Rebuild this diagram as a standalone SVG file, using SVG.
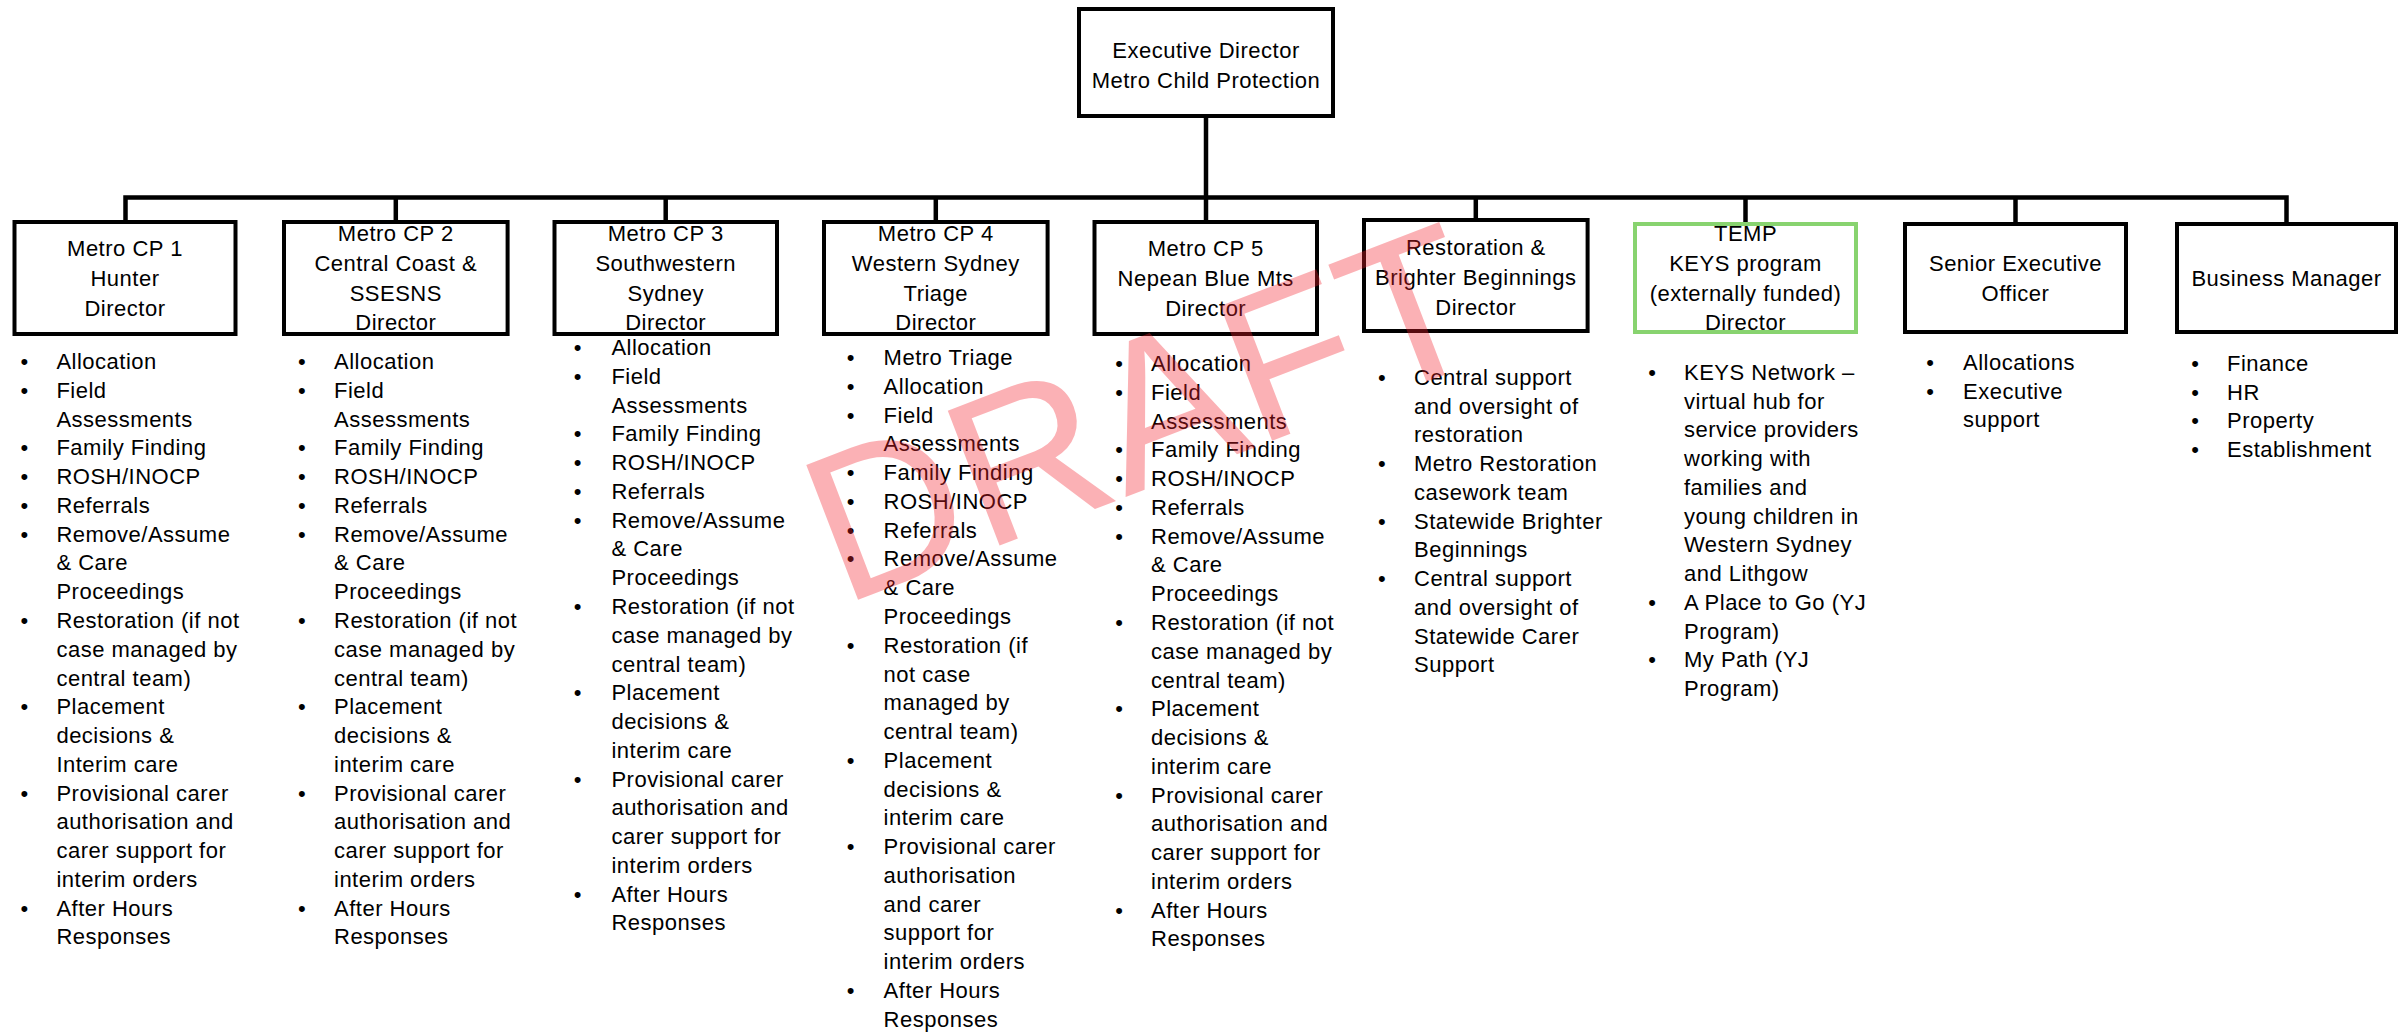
<svg xmlns="http://www.w3.org/2000/svg" width="2407" height="1032" viewBox="0 0 2407 1032">
<style>
.bg{fill:#fff}
.box{fill:#fff;stroke:#000;stroke-width:4}
.gbox{fill:#fff;stroke:#88d36f;stroke-width:4}
.conn{fill:none;stroke:#000;stroke-width:4.5}
text{font-family:"Liberation Sans",Arial,sans-serif;font-size:22px;fill:#000;letter-spacing:0.5px}
.c{text-anchor:middle}
.b{text-anchor:middle;letter-spacing:0}
.wm{font-family:"Liberation Sans",Arial,sans-serif;font-size:210px;fill:#f5222d;opacity:0.35;letter-spacing:0}
</style>
<rect class="bg" x="0" y="0" width="2407" height="1032"/>
<g id="connectors">
<path class="conn" d="M1206 118 V220"/>
<path class="conn" d="M125.5 222 V197.5 H2286.5 V222"/>
<path class="conn" d="M395.8 197.5 V220"/>
<path class="conn" d="M665.7 197.5 V220"/>
<path class="conn" d="M935.8 197.5 V220"/>
<path class="conn" d="M1475.8 197.5 V218"/>
<path class="conn" d="M1745.5 197.5 V222"/>
<path class="conn" d="M2015.5 197.5 V222"/>
</g>
<g id="exec">
<rect class="box" x="1079" y="9" width="254" height="107"/>
<text class="c" x="1206" y="58">Executive Director</text>
<text class="c" x="1206" y="88">Metro Child Protection</text>
</g>
<g id="cp1">
<rect class="box" x="14.5" y="222" width="221" height="112"/>
<text class="c" x="125" y="256">Metro CP 1</text>
<text class="c" x="125" y="286">Hunter</text>
<text class="c" x="125" y="316">Director</text>
<text class="b" x="24.3" y="369">•</text><text x="56.4" y="369">Allocation</text>
<text class="b" x="24.3" y="397.8">•</text><text x="56.4" y="397.8">Field</text>
<text x="56.4" y="426.5">Assessments</text>
<text class="b" x="24.3" y="455.3">•</text><text x="56.4" y="455.3">Family Finding</text>
<text class="b" x="24.3" y="484.1">•</text><text x="56.4" y="484.1">ROSH/INOCP</text>
<text class="b" x="24.3" y="512.9">•</text><text x="56.4" y="512.9">Referrals</text>
<text class="b" x="24.3" y="541.6">•</text><text x="56.4" y="541.6">Remove/Assume</text>
<text x="56.4" y="570.4">&amp; Care</text>
<text x="56.4" y="599.2">Proceedings</text>
<text class="b" x="24.3" y="627.9">•</text><text x="56.4" y="627.9">Restoration (if not</text>
<text x="56.4" y="656.7">case managed by</text>
<text x="56.4" y="685.5">central team)</text>
<text class="b" x="24.3" y="714.2">•</text><text x="56.4" y="714.2">Placement</text>
<text x="56.4" y="743">decisions &amp;</text>
<text x="56.4" y="771.8">Interim care</text>
<text class="b" x="24.3" y="800.6">•</text><text x="56.4" y="800.6">Provisional carer</text>
<text x="56.4" y="829.3">authorisation and</text>
<text x="56.4" y="858.1">carer support for</text>
<text x="56.4" y="886.9">interim orders</text>
<text class="b" x="24.3" y="915.6">•</text><text x="56.4" y="915.6">After Hours</text>
<text x="56.4" y="944.4">Responses</text>
</g>
<g id="cp2">
<rect class="box" x="284" y="222" width="223.6" height="112"/>
<text class="c" x="395.8" y="241">Metro CP 2</text>
<text class="c" x="395.8" y="271">Central Coast &amp;</text>
<text class="c" x="395.8" y="300.5">SSESNS</text>
<text class="c" x="395.8" y="330">Director</text>
<text class="b" x="301.8" y="369">•</text><text x="334" y="369">Allocation</text>
<text class="b" x="301.8" y="397.8">•</text><text x="334" y="397.8">Field</text>
<text x="334" y="426.5">Assessments</text>
<text class="b" x="301.8" y="455.3">•</text><text x="334" y="455.3">Family Finding</text>
<text class="b" x="301.8" y="484.1">•</text><text x="334" y="484.1">ROSH/INOCP</text>
<text class="b" x="301.8" y="512.9">•</text><text x="334" y="512.9">Referrals</text>
<text class="b" x="301.8" y="541.6">•</text><text x="334" y="541.6">Remove/Assume</text>
<text x="334" y="570.4">&amp; Care</text>
<text x="334" y="599.2">Proceedings</text>
<text class="b" x="301.8" y="627.9">•</text><text x="334" y="627.9">Restoration (if not</text>
<text x="334" y="656.7">case managed by</text>
<text x="334" y="685.5">central team)</text>
<text class="b" x="301.8" y="714.2">•</text><text x="334" y="714.2">Placement</text>
<text x="334" y="743">decisions &amp;</text>
<text x="334" y="771.8">interim care</text>
<text class="b" x="301.8" y="800.6">•</text><text x="334" y="800.6">Provisional carer</text>
<text x="334" y="829.3">authorisation and</text>
<text x="334" y="858.1">carer support for</text>
<text x="334" y="886.9">interim orders</text>
<text class="b" x="301.8" y="915.6">•</text><text x="334" y="915.6">After Hours</text>
<text x="334" y="944.4">Responses</text>
</g>
<g id="cp3">
<rect class="box" x="554.5" y="222" width="222.5" height="112"/>
<text class="c" x="665.7" y="241">Metro CP 3</text>
<text class="c" x="665.7" y="271">Southwestern</text>
<text class="c" x="665.7" y="300.5">Sydney</text>
<text class="c" x="665.7" y="330">Director</text>
<text class="b" x="577.5" y="355">•</text><text x="611.4" y="355">Allocation</text>
<text class="b" x="577.5" y="383.8">•</text><text x="611.4" y="383.8">Field</text>
<text x="611.4" y="412.5">Assessments</text>
<text class="b" x="577.5" y="441.3">•</text><text x="611.4" y="441.3">Family Finding</text>
<text class="b" x="577.5" y="470.1">•</text><text x="611.4" y="470.1">ROSH/INOCP</text>
<text class="b" x="577.5" y="498.9">•</text><text x="611.4" y="498.9">Referrals</text>
<text class="b" x="577.5" y="527.6">•</text><text x="611.4" y="527.6">Remove/Assume</text>
<text x="611.4" y="556.4">&amp; Care</text>
<text x="611.4" y="585.2">Proceedings</text>
<text class="b" x="577.5" y="613.9">•</text><text x="611.4" y="613.9">Restoration (if not</text>
<text x="611.4" y="642.7">case managed by</text>
<text x="611.4" y="671.5">central team)</text>
<text class="b" x="577.5" y="700.2">•</text><text x="611.4" y="700.2">Placement</text>
<text x="611.4" y="729">decisions &amp;</text>
<text x="611.4" y="757.8">interim care</text>
<text class="b" x="577.5" y="786.6">•</text><text x="611.4" y="786.6">Provisional carer</text>
<text x="611.4" y="815.3">authorisation and</text>
<text x="611.4" y="844.1">carer support for</text>
<text x="611.4" y="872.9">interim orders</text>
<text class="b" x="577.5" y="901.6">•</text><text x="611.4" y="901.6">After Hours</text>
<text x="611.4" y="930.4">Responses</text>
</g>
<g id="cp4">
<rect class="box" x="824" y="222" width="223.6" height="112"/>
<text class="c" x="935.8" y="241">Metro CP 4</text>
<text class="c" x="935.8" y="271">Western Sydney</text>
<text class="c" x="935.8" y="300.5">Triage</text>
<text class="c" x="935.8" y="330">Director</text>
<text class="b" x="850.7" y="365">•</text><text x="883.6" y="365">Metro Triage</text>
<text class="b" x="850.7" y="393.8">•</text><text x="883.6" y="393.8">Allocation</text>
<text class="b" x="850.7" y="422.5">•</text><text x="883.6" y="422.5">Field</text>
<text x="883.6" y="451.3">Assessments</text>
<text class="b" x="850.7" y="480.1">•</text><text x="883.6" y="480.1">Family Finding</text>
<text class="b" x="850.7" y="508.9">•</text><text x="883.6" y="508.9">ROSH/INOCP</text>
<text class="b" x="850.7" y="537.6">•</text><text x="883.6" y="537.6">Referrals</text>
<text class="b" x="850.7" y="566.4">•</text><text x="883.6" y="566.4">Remove/Assume</text>
<text x="883.6" y="595.2">&amp; Care</text>
<text x="883.6" y="623.9">Proceedings</text>
<text class="b" x="850.7" y="652.7">•</text><text x="883.6" y="652.7">Restoration (if</text>
<text x="883.6" y="681.5">not case</text>
<text x="883.6" y="710.2">managed by</text>
<text x="883.6" y="739">central team)</text>
<text class="b" x="850.7" y="767.8">•</text><text x="883.6" y="767.8">Placement</text>
<text x="883.6" y="796.6">decisions &amp;</text>
<text x="883.6" y="825.3">interim care</text>
<text class="b" x="850.7" y="854.1">•</text><text x="883.6" y="854.1">Provisional carer</text>
<text x="883.6" y="882.9">authorisation</text>
<text x="883.6" y="911.6">and carer</text>
<text x="883.6" y="940.4">support for</text>
<text x="883.6" y="969.2">interim orders</text>
<text class="b" x="850.7" y="997.9">•</text><text x="883.6" y="997.9">After Hours</text>
<text x="883.6" y="1026.7">Responses</text>
</g>
<g id="cp5">
<rect class="box" x="1094.5" y="222" width="222.5" height="112"/>
<text class="c" x="1205.7" y="256">Metro CP 5</text>
<text class="c" x="1205.7" y="286">Nepean Blue Mts</text>
<text class="c" x="1205.7" y="316">Director</text>
<text class="b" x="1119" y="371">•</text><text x="1151" y="371">Allocation</text>
<text class="b" x="1119" y="399.8">•</text><text x="1151" y="399.8">Field</text>
<text x="1151" y="428.5">Assessments</text>
<text class="b" x="1119" y="457.3">•</text><text x="1151" y="457.3">Family Finding</text>
<text class="b" x="1119" y="486.1">•</text><text x="1151" y="486.1">ROSH/INOCP</text>
<text class="b" x="1119" y="514.9">•</text><text x="1151" y="514.9">Referrals</text>
<text class="b" x="1119" y="543.6">•</text><text x="1151" y="543.6">Remove/Assume</text>
<text x="1151" y="572.4">&amp; Care</text>
<text x="1151" y="601.2">Proceedings</text>
<text class="b" x="1119" y="629.9">•</text><text x="1151" y="629.9">Restoration (if not</text>
<text x="1151" y="658.7">case managed by</text>
<text x="1151" y="687.5">central team)</text>
<text class="b" x="1119" y="716.2">•</text><text x="1151" y="716.2">Placement</text>
<text x="1151" y="745">decisions &amp;</text>
<text x="1151" y="773.8">interim care</text>
<text class="b" x="1119" y="802.6">•</text><text x="1151" y="802.6">Provisional carer</text>
<text x="1151" y="831.3">authorisation and</text>
<text x="1151" y="860.1">carer support for</text>
<text x="1151" y="888.9">interim orders</text>
<text class="b" x="1119" y="917.6">•</text><text x="1151" y="917.6">After Hours</text>
<text x="1151" y="946.4">Responses</text>
</g>
<g id="restoration">
<rect class="box" x="1364" y="220" width="223.6" height="111"/>
<text class="c" x="1475.8" y="254.7">Restoration &amp;</text>
<text class="c" x="1475.8" y="284.7">Brighter Beginnings</text>
<text class="c" x="1475.8" y="314.7">Director</text>
<text class="b" x="1381.8" y="384.7">•</text><text x="1414" y="384.7">Central support</text>
<text x="1414" y="413.5">and oversight of</text>
<text x="1414" y="442.2">restoration</text>
<text class="b" x="1381.8" y="471">•</text><text x="1414" y="471">Metro Restoration</text>
<text x="1414" y="499.8">casework team</text>
<text class="b" x="1381.8" y="528.6">•</text><text x="1414" y="528.6">Statewide Brighter</text>
<text x="1414" y="557.3">Beginnings</text>
<text class="b" x="1381.8" y="586.1">•</text><text x="1414" y="586.1">Central support</text>
<text x="1414" y="614.9">and oversight of</text>
<text x="1414" y="643.6">Statewide Carer</text>
<text x="1414" y="672.4">Support</text>
</g>
<g id="keys">
<rect class="gbox" x="1635" y="224" width="221" height="108"/>
<text class="c" x="1745.5" y="241">TEMP</text>
<text class="c" x="1745.5" y="271">KEYS program</text>
<text class="c" x="1745.5" y="300.5">(externally funded)</text>
<text class="c" x="1745.5" y="330">Director</text>
<text class="b" x="1652" y="379.7">•</text><text x="1684" y="379.7">KEYS Network –</text>
<text x="1684" y="408.5">virtual hub for</text>
<text x="1684" y="437.2">service providers</text>
<text x="1684" y="466">working with</text>
<text x="1684" y="494.8">families and</text>
<text x="1684" y="523.6">young children in</text>
<text x="1684" y="552.3">Western Sydney</text>
<text x="1684" y="581.1">and Lithgow</text>
<text class="b" x="1652" y="609.9">•</text><text x="1684" y="609.9">A Place to Go (YJ</text>
<text x="1684" y="638.6">Program)</text>
<text class="b" x="1652" y="667.4">•</text><text x="1684" y="667.4">My Path (YJ</text>
<text x="1684" y="696.2">Program)</text>
</g>
<g id="seo">
<rect class="box" x="1905" y="224" width="221" height="108"/>
<text class="c" x="2015.5" y="271">Senior Executive</text>
<text class="c" x="2015.5" y="301">Officer</text>
<text class="b" x="1930" y="369.7">•</text><text x="1963" y="369.7">Allocations</text>
<text class="b" x="1930" y="398.5">•</text><text x="1963" y="398.5">Executive</text>
<text x="1963" y="427.2">support</text>
</g>
<g id="bm">
<rect class="box" x="2177" y="224" width="219" height="108"/>
<text class="c" x="2286.5" y="286">Business Manager</text>
<text class="b" x="2195" y="370.7">•</text><text x="2227" y="370.7">Finance</text>
<text class="b" x="2195" y="399.5">•</text><text x="2227" y="399.5">HR</text>
<text class="b" x="2195" y="428.2">•</text><text x="2227" y="428.2">Property</text>
<text class="b" x="2195" y="457">•</text><text x="2227" y="457">Establishment</text>
</g>
<text class="wm" transform="translate(842 606) rotate(-21)" x="0" y="0">DRAFT</text>
</svg>
